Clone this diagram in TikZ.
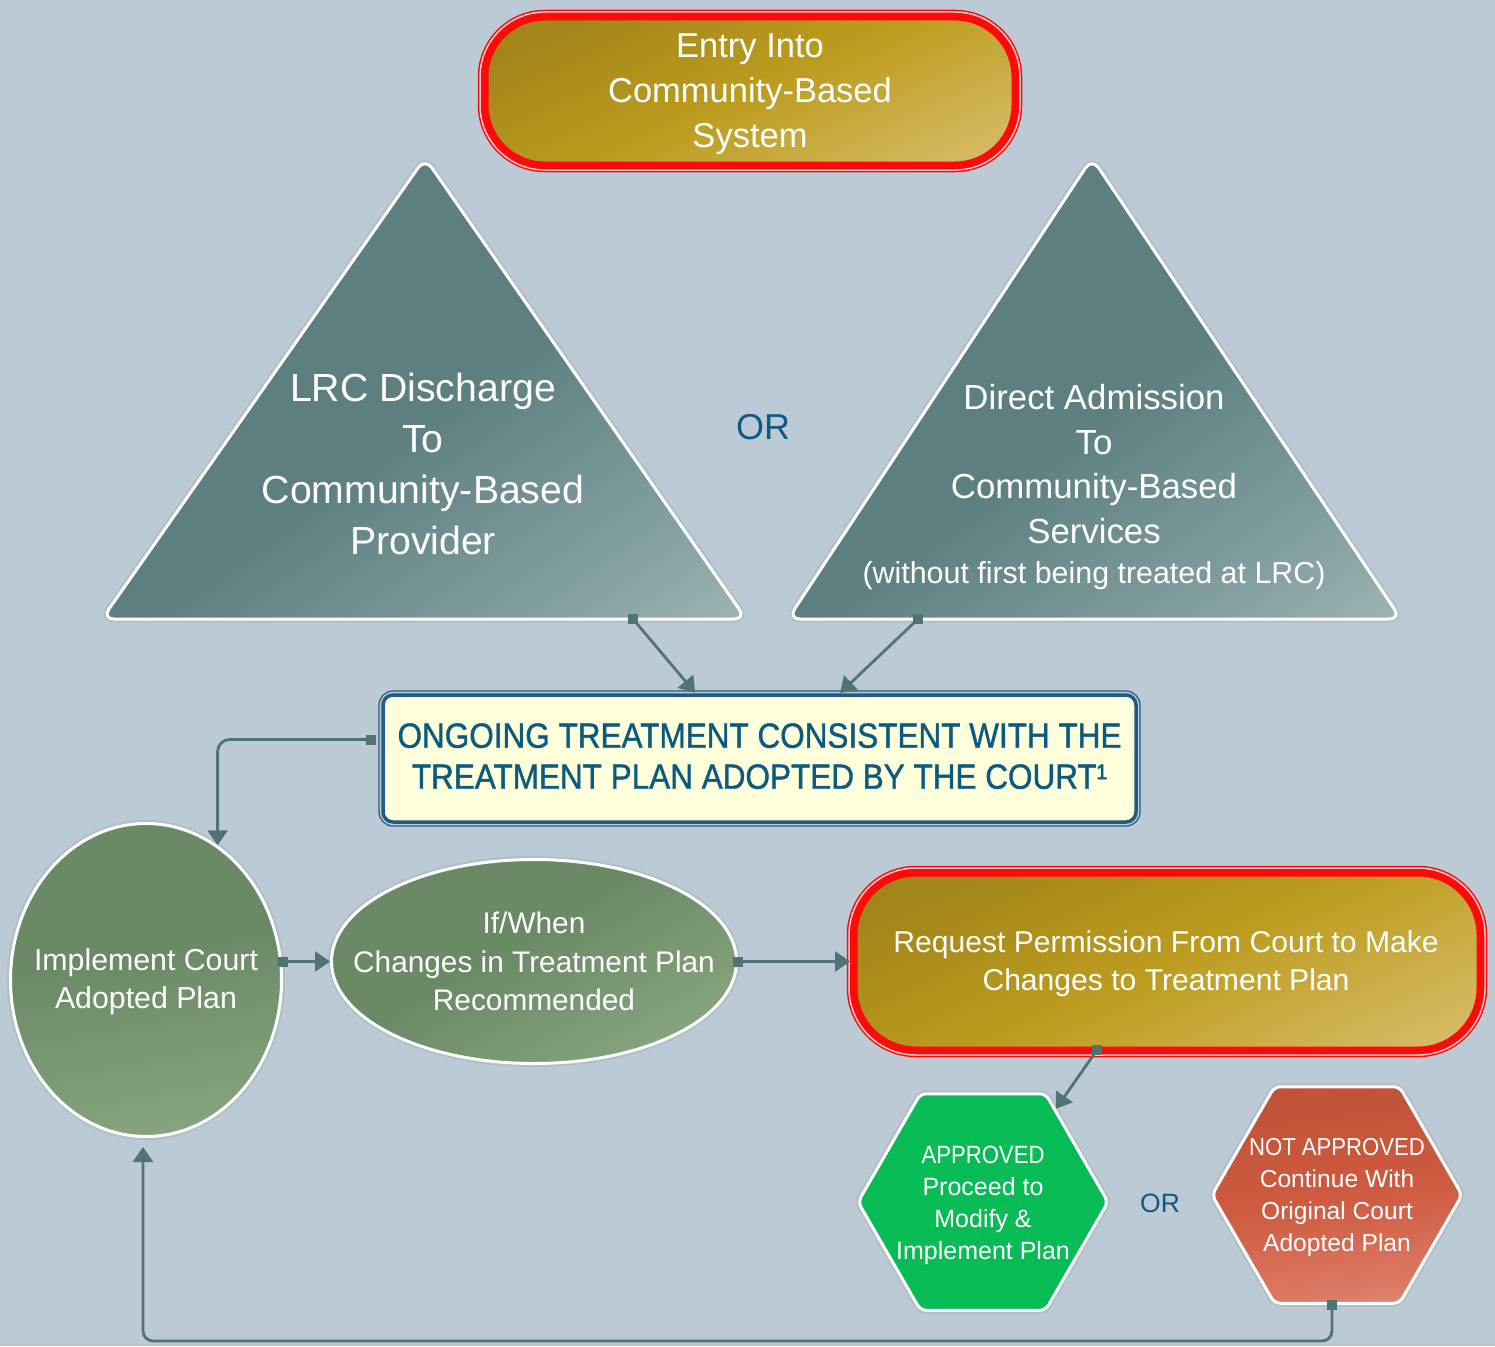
\documentclass[tikz,border=0pt]{standalone}
\usepackage{fontspec}
\setmainfont{Liberation Sans}
\newfontface\ongface{Liberation Sans}[FakeBold=1.2]
\usetikzlibrary{arrows.meta,shapes.geometric,calc}
\definecolor{bgc}{HTML}{BCCAD5}
\definecolor{conn}{HTML}{4E7474}
\definecolor{orblue}{HTML}{0E5A86}
\definecolor{ongfill}{HTML}{FFFFDB}
\definecolor{ongline}{HTML}{1F5C84}
\definecolor{ongtext}{HTML}{0B5A80}
\definecolor{boxred}{HTML}{FF0A0A}
\definecolor{ringpink}{HTML}{F4CFCF}
\definecolor{goldL}{HTML}{E4D196}
\definecolor{goldLM}{HTML}{D2B65A}
\definecolor{goldM}{HTML}{BC9C1E}
\definecolor{goldD}{HTML}{A3851A}
\definecolor{triL}{HTML}{C4D1CF}
\definecolor{triM}{HTML}{86A2A2}
\definecolor{triD}{HTML}{5D7F80}
\definecolor{grL}{HTML}{B4CBAA}
\definecolor{grM}{HTML}{86A57E}
\definecolor{grD}{HTML}{6A8965}
\definecolor{apgreen}{HTML}{08BC55}
\definecolor{naL}{HTML}{ECAA9A}
\definecolor{naLM}{HTML}{DC7A64}
\definecolor{naM}{HTML}{CE5A3F}
\definecolor{naD}{HTML}{B44A30}
\pgfdeclareverticalshading{goldsh}{100bp}{color(0bp)=(goldL); color(25bp)=(goldLM); color(50bp)=(goldM); color(75bp)=(goldD); color(100bp)=(goldD)}
\pgfdeclareverticalshading{trish}{100bp}{color(0bp)=(triL); color(25bp)=(triM); color(48bp)=(triD); color(100bp)=(triD)}
\pgfdeclareverticalshading{grsh}{100bp}{color(0bp)=(grL); color(25bp)=(grM); color(55bp)=(grD); color(100bp)=(grD)}
\pgfdeclareverticalshading{nash}{100bp}{color(0bp)=(naL); color(12bp)=(naL); color(28bp)=(naLM); color(50bp)=(naM); color(100bp)=(naD)}
\newcommand\fs[2]{\fontsize{#1pt}{#2pt}\selectfont}
\tikzset{
  wtext/.style={text=white, align=center, inner sep=0},
  ortext/.style={text=orblue, inner sep=0, font=\fs{36}{40}},
  connbase/.style={draw=conn, line width=2.8, arrows={-Triangle[length=15pt,width=20pt]}},
  conn/.style={connbase, arrows={Square[length=10pt,width=10pt]-Triangle[length=15pt,width=20pt]}, shorten <=-5},
  sqm/.style={fill=conn, minimum size=10, inner sep=0, outer sep=0},
  glow/.style={preaction={draw=black!40, line width=7, opacity=.25}},
  redbox/.style={shade, shading=goldsh, shading angle=25, draw=boxred, line width=7, outer sep=0, inner sep=0},
  redring/.style={draw=boxred, line width=1.5, double=ringpink, double distance=1.5},
  tri/.style={shade, shading=trish, shading angle=35, draw=white, line width=3, rounded corners=12, glow},
  ellbox/.style={ellipse, shade, shading=grsh, draw=white, line width=3, inner sep=0, glow},
  hexbox/.style={regular polygon, regular polygon sides=6, minimum size=250, inner sep=0, draw=white, line width=3, rounded corners=6, glow},
}
\begin{document}
\begin{tikzpicture}[x=1pt,y=-1pt]
\useasboundingbox (0,0) rectangle (1495,1346);
\fill[bgc] (0,0) rectangle (1495,1346);

% entry box
\node[redbox, minimum width=530, minimum height=148, rounded corners=60] (entry) at (750,91) {};
\draw[redring, rounded corners=65] ([shift={(-5,5)}]entry.south west) rectangle ([shift={(5,-5)}]entry.north east);
\node[wtext, font=\fs{34.5}{45}] (entryt) at (750,94) {Entry Into\\Community-Based\\System};

% triangles
\path[tri] (425,158) -- (746,619) -- (102,619) -- cycle;
\coordinate (t1b) at (633,619);
\node[wtext, font=\fs{39.2}{51}] (tri1t) at (423,464) {LRC Discharge\\To\\Community-Based\\Provider};

\path[tri] (1092,158) -- (1401,619) -- (788,619) -- cycle;
\coordinate (t2b) at (918,619);
\node[wtext, font=\fs{34.8}{44.7}] (tri2t) at (1094,464) {Direct Admission\\To\\Community-Based\\Services};
\node[wtext, font=\fs{30.4}{36}] (tri2s) at (1094,576) {(without first being treated at LRC)};

\node[ortext] (or1) at (763,427) {OR};

% ongoing box
\node[fill=ongfill, draw=ongline, line width=3.5, rounded corners=10, outer sep=0, inner sep=0, minimum width=753, minimum height=127] (ong) at (759.5,758.5) {};
\draw[ongline, line width=1.2, rounded corners=14] ([shift={(-4,4)}]ong.south west) rectangle ([shift={(4,-4)}]ong.north east);
\node[text=ongtext, inner sep=0] (ongt) at (759.5,760) {\scalebox{0.9}[1]{\ongface\fs{35}{41}\begin{tabular}{@{}c@{}}ONGOING TREATMENT CONSISTENT WITH THE\\TREATMENT PLAN ADOPTED BY THE COURT¹\end{tabular}}};

% ellipses
\node[ellbox, shading angle=10, minimum width=271, minimum height=313] (e1) at (146,980) {};
\node[wtext, font=\fs{30.3}{38}] (e1t) at (146,982) {Implement Court\\Adopted Plan};
\node[ellbox, shading angle=30, minimum width=405, minimum height=204] (e2) at (534,961.5) {};
\node[wtext, font=\fs{29.8}{38.5}] (e2t) at (534,961.5) {If/When\\Changes in Treatment Plan\\Recommended};

% request box
\node[redbox, minimum width=626, minimum height=177, rounded corners=62] (req) at (1167,961.5) {};
\draw[redring, rounded corners=67] ([shift={(-5,5)}]req.south west) rectangle ([shift={(5,-5)}]req.north east);
\node[wtext, font=\fs{30.1}{38}] (reqt) at (1166,964) {Request Permission From Court to Make\\Changes to Treatment Plan};

% hexagons
\node[hexbox, fill=apgreen] (appr) at (983,1202) {};
\node[wtext, font=\fs{25}{32}] (apprt) at (983,1205.5) {\scalebox{0.885}[1]{APPROVED}\\Proceed to\\Modify \&\\Implement Plan};
\node[hexbox, shade, shading=nash, shading angle=8] (na) at (1337,1195) {};
\node[wtext, font=\fs{24.6}{32}] (nat) at (1337,1197.5) {\scalebox{0.9}[1]{NOT APPROVED}\\Continue With\\Original Court\\Adopted Plan};
\node[ortext, font=\fs{26.5}{30}] (or2) at (1160,1203) {OR};

% connectors
\node[sqm] (s1) at (t1b) {};
\node[sqm] (s2) at (t2b) {};
\node[sqm] (s3) at ([xshift=-70pt]req.south) {};
\draw[connbase, shorten >=3] (s1.center) -- ([xshift=-62.5pt]ong.north);
\draw[connbase, shorten >=3] (s2.center) -- ([xshift=78.5pt]ong.north);
\draw[connbase] (s3.center) -- (appr.52);
\draw[conn, shorten <=7, rounded corners=12] ([yshift=19pt]ong.west) -| (e1.62);
\draw[conn] (e1.east |- e2.west) -- (e2.west);
\draw[conn, shorten >=4] (e2.east) -- (e2.east -| req.west);
\coordinate (loop) at (700,1341);
\draw[conn, rounded corners=10, shorten >=9] ([xshift=-5pt]na.south) |- (loop) -| ([xshift=-3pt]e1.south);
\end{tikzpicture}
\end{document}
